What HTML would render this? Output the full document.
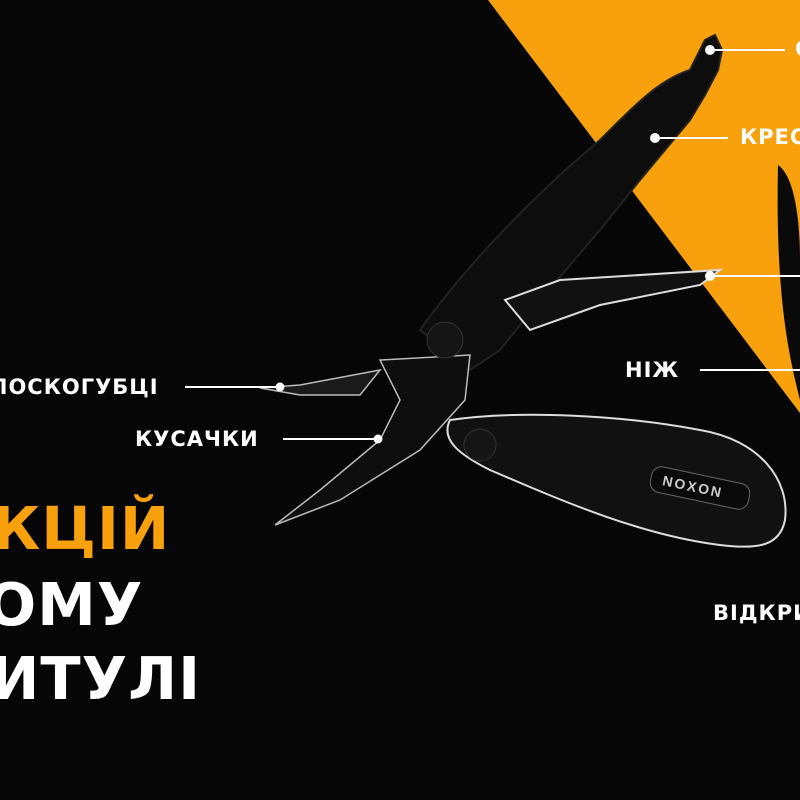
<!DOCTYPE html>
<html><head><meta charset="utf-8"><style>
html,body{margin:0;padding:0;background:#060606;}
.w{position:relative;width:800px;height:800px;overflow:hidden;background:#060606;font-family:"DejaVu Sans","Liberation Sans",sans-serif;font-weight:bold;}
.t{position:absolute;color:#fff;white-space:nowrap;font-size:21px;letter-spacing:1px;}
.big{position:absolute;font-size:59px;letter-spacing:1px;white-space:nowrap;line-height:1;}
</style></head><body><div class="w">
<svg width="800" height="800" style="position:absolute;left:0;top:0">
<polygon points="488,0 800,0 800,413" fill="#f9a10c"/>
<path d="M778,165 C800,180 800,250 800,260 L800,400 C790,360 775,300 778,165Z" fill="#0a0a0a"/>
<path d="M420,330 C470,260 540,190 600,140 C640,100 660,80 690,70 L705,40 L715,35 L722,50 L718,70 L705,95 L690,120 L665,150 L640,180 L600,230 L540,300 L500,350 L470,370 Z" fill="#0d0d0d" stroke="#222" stroke-width="2"/>
<path d="M505,300 L560,280 L720,270 L700,285 L600,305 L530,330 Z" fill="#111" stroke="#ddd" stroke-width="2"/>
<path d="M450,420 C520,410 620,415 700,430 C760,440 790,480 785,520 C780,545 760,550 720,545 C640,535 560,500 490,470 C460,455 440,440 450,420Z" fill="#111" stroke="#ddd" stroke-width="2"/>
<rect x="650" y="475" width="100" height="26" rx="10" fill="#0a0a0a" stroke="#666" transform="rotate(12 700 488)"/>
<text x="662" y="493" fill="#ccc" font-family="Liberation Sans" font-size="14" letter-spacing="2" transform="rotate(12 700 488)">NOXON</text>
<path d="M380,360 L470,355 L465,400 L420,450 L340,500 L275,525 L320,490 L380,440 L400,400 Z" fill="#0e0e0e" stroke="#bbb" stroke-width="1.5"/>
<path d="M380,370 L300,385 L260,388 L300,395 L360,395 Z" fill="#1a1a1a" stroke="#bbb" stroke-width="1.5"/>
<circle cx="445" cy="340" r="18" fill="#151515" stroke="#333"/>
<circle cx="480" cy="445" r="16" fill="#151515" stroke="#333"/>
<g stroke="#fff" stroke-width="2" fill="#fff">
<line x1="185" y1="387" x2="280" y2="387"/><circle cx="280" cy="387" r="3.5"/>
<line x1="283" y1="439" x2="378" y2="439"/><circle cx="378" cy="439" r="3.5"/>
<line x1="700" y1="370" x2="800" y2="370"/>
<line x1="710" y1="50" x2="785" y2="50"/><circle cx="710" cy="50" r="4"/>
<line x1="655" y1="138" x2="728" y2="138"/><circle cx="655" cy="138" r="4"/>
<line x1="710" y1="276" x2="800" y2="276"/><circle cx="710" cy="276" r="4"/>
</g>
</svg>
<div class="t" style="left:-10px;top:375px">ЛОСКОГУБЦІ</div>
<div class="t" style="left:135px;top:427px">КУСАЧКИ</div>
<div class="t" style="left:625px;top:358px">НІЖ</div>
<div class="t" style="left:740px;top:125px">КРЕСАЛО</div>
<div class="t" style="left:795px;top:37px">О</div>
<div class="t" style="left:713px;top:601px">ВІДКРИВАЧКА</div>
<div class="big" style="left:-8px;top:499px;color:#f9a10c">КЦІЙ</div>
<div class="big" style="left:-14px;top:575px;color:#fff">ОМУ</div>
<div class="big" style="left:-10px;top:649px;color:#fff">ИТУЛІ</div>
</div></body></html>
